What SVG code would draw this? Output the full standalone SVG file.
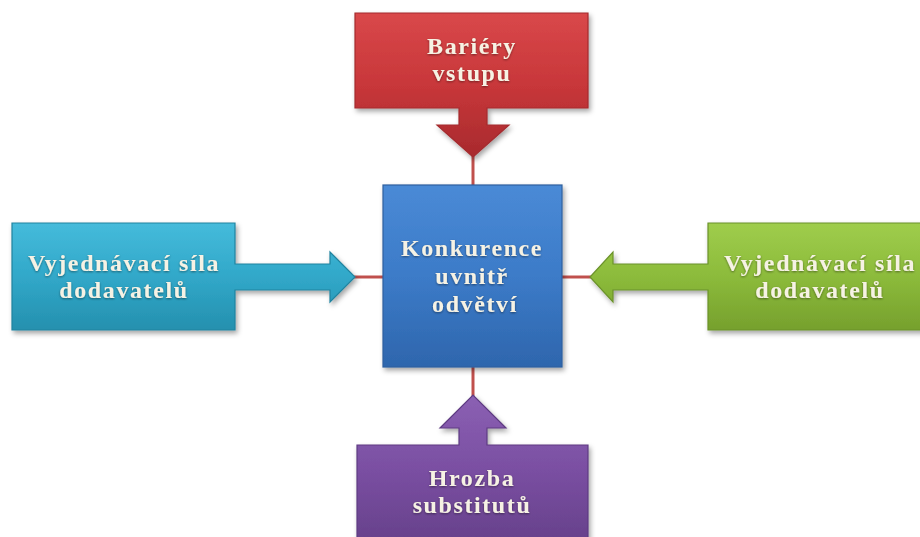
<svg xmlns="http://www.w3.org/2000/svg" width="920" height="537" viewBox="0 0 920 537">
<defs>
<style>
.lbl{font-family:"Liberation Serif","DejaVu Serif",serif;font-weight:bold;font-size:24px;fill:#f6f2e4;text-anchor:middle;letter-spacing:1.6px;filter:url(#ts)}
.shape{filter:url(#ds);stroke-width:1.2}
.conn{stroke:#c0504d;stroke-width:3;fill:none}
</style>
<filter id="ds" x="-10%" y="-10%" width="130%" height="130%">
<feDropShadow dx="2" dy="3" stdDeviation="2.5" flood-color="#000" flood-opacity="0.35"/>
</filter>
<filter id="ts" x="-10%" y="-30%" width="120%" height="160%">
<feDropShadow dx="0" dy="1" stdDeviation="1.2" flood-color="#000" flood-opacity="0.45"/>
</filter>
<linearGradient id="gRed" x1="0" y1="0" x2="0" y2="1">
<stop offset="0" stop-color="#d9484a"/><stop offset="0.5" stop-color="#c8373a"/><stop offset="1" stop-color="#a82a2d"/>
</linearGradient>
<linearGradient id="gBlue" x1="0" y1="0" x2="0" y2="1">
<stop offset="0" stop-color="#4a8ad6"/><stop offset="0.5" stop-color="#3c7bc8"/><stop offset="1" stop-color="#2e66ad"/>
</linearGradient>
<linearGradient id="gTeal" x1="0" y1="0" x2="0" y2="1">
<stop offset="0" stop-color="#45bbdb"/><stop offset="0.5" stop-color="#31a8c9"/><stop offset="1" stop-color="#2590ae"/>
</linearGradient>
<linearGradient id="gGreen" x1="0" y1="0" x2="0" y2="1">
<stop offset="0" stop-color="#9fcd4c"/><stop offset="0.5" stop-color="#8cbb3b"/><stop offset="1" stop-color="#76a02d"/>
</linearGradient>
<linearGradient id="gPurple" x1="0" y1="0" x2="0" y2="1">
<stop offset="0" stop-color="#8b60b3"/><stop offset="0.5" stop-color="#7a4fa2"/><stop offset="1" stop-color="#66408a"/>
</linearGradient>
</defs>
<rect width="920" height="537" fill="#ffffff"/>
<g id="connectors">
<line class="conn" x1="473" y1="155" x2="473" y2="186"/>
<line class="conn" x1="473" y1="366" x2="473" y2="397"/>
<line class="conn" x1="353" y1="277" x2="384" y2="277"/>
<line class="conn" x1="561" y1="277" x2="592" y2="277"/>
</g>
<g id="node-bariery">
<path class="shape" fill="url(#gRed)" stroke="#a32b2e" d="M355,13 H588 V108 H487 V125 H509 L473,157 L437,125 H459 V108 H355 Z"/>
<text class="lbl"><tspan x="472" y="54">Bariéry</tspan><tspan x="472" y="81">vstupu</tspan></text>
</g>
<g id="node-konkurence">
<rect class="shape" x="383" y="185" width="179" height="182" fill="url(#gBlue)" stroke="#2d5f9e"/>
<text class="lbl"><tspan x="472" y="256">Konkurence</tspan><tspan x="472" y="284">uvnitř</tspan><tspan x="475" y="312">odvětví</tspan></text>
</g>
<g id="node-dodavatele-left">
<path class="shape" fill="url(#gTeal)" stroke="#21839f" d="M12,223 H235 V264 H330 V252 L355,277 L330,302 V290 H235 V330 H12 Z"/>
<text class="lbl"><tspan x="124" y="271">Vyjednávací síla</tspan><tspan x="124" y="298">dodavatelů</tspan></text>
</g>
<g id="node-dodavatele-right">
<path class="shape" fill="url(#gGreen)" stroke="#6b922a" d="M708,223 H935 V330 H708 V290 H613 V302 L590,277 L613,252 V264 H708 Z"/>
<text class="lbl"><tspan x="820" y="271">Vyjednávací síla</tspan><tspan x="820" y="298">dodavatelů</tspan></text>
</g>
<g id="node-hrozba">
<path class="shape" fill="url(#gPurple)" stroke="#5e3b82" d="M357,445 H459 V428 H440 L473,395 L506,428 H487 V445 H588 V545 H357 Z"/>
<text class="lbl"><tspan x="472" y="486">Hrozba</tspan><tspan x="472" y="513">substitutů</tspan></text>
</g>
</svg>
